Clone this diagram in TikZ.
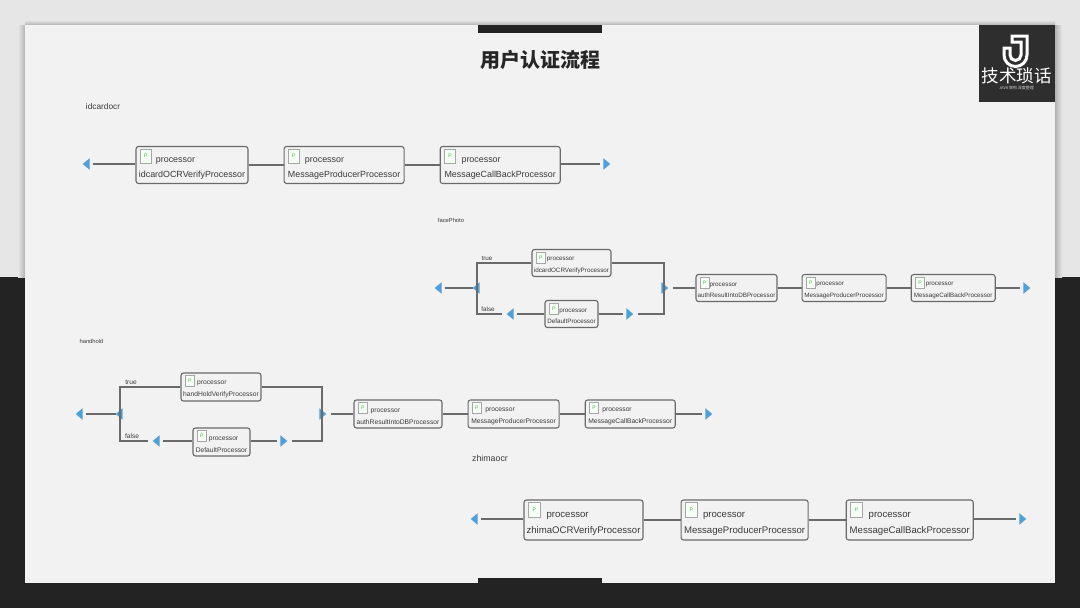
\documentclass[tikz,border=0pt]{standalone}
\usepackage{fontspec}
\setmainfont{Liberation Sans}
\newfontfamily\cjk{Noto Sans CJK SC}
\usetikzlibrary{shapes.geometric, positioning, calc}
\definecolor{panelc}{HTML}{F2F2F2}
\definecolor{topc}{HTML}{E6E6E6}
\definecolor{darkc}{HTML}{232323}
\definecolor{linec}{HTML}{6A6A6A}
\definecolor{tipc}{HTML}{4F9FD8}
\definecolor{textc}{HTML}{3A3A3A}

\begin{document}
\begin{tikzpicture}[
  x=1pt, y=-1pt,
  proc/.style={rectangle, draw=linec, fill=panelc, rounded corners=2.5pt, line width=1.1pt,
               inner sep=1pt, align=left, text=textc},
  big/.style={proc, minimum height=37pt, font=\fontsize{8.9}{15}\selectfont,
              execute at begin node={\rule{0pt}{27.5pt}}},
  small/.style={proc, minimum height=27pt, font=\fontsize{6.3}{11.5}\selectfont,
                execute at begin node={\rule{0pt}{20pt}}},
  mid/.style={proc, minimum height=28pt, font=\fontsize{6.7}{12}\selectfont,
              execute at begin node={\rule{0pt}{21pt}}},
  huge/.style={proc, minimum height=40pt, font=\fontsize{9.6}{16}\selectfont,
               execute at begin node={\rule{0pt}{29pt}}},
  icon/.style={rectangle, draw=gray!70, fill=green!4, inner sep=0pt, line width=.6pt,
               text=green!40!gray, font=\fontsize{5}{5}\selectfont},
  tipl/.style={isosceles triangle, isosceles triangle apex angle=80, shape border rotate=180,
               fill=tipc, inner sep=0pt, minimum height=7pt, minimum width=11pt, outer sep=3pt},
  tipr/.style={tipl, shape border rotate=0},
  lbl/.style={text=textc, inner sep=0pt},
  a/.style={draw=linec, line width=1.1pt},
]
  \useasboundingbox (0,0) rectangle (1080,608);

  % page
  \fill[topc] (0,0) rectangle (1080,277);
  \fill[darkc] (0,277) rectangle (1080,608);
  \shade[left color=topc, right color=gray!60] (18,25) rectangle (25,277);
  \shade[left color=gray!60, right color=topc] (1055,25) rectangle (1062,277);
  \shade[top color=topc, bottom color=gray!60] (25,20) rectangle (1055,25);
  \fill[panelc] (25,25) rectangle (1055,583);
  \fill[darkc] (478,25) rectangle (602,33);
  \fill[darkc] (478,578) rectangle (602,583);
  \node[font=\cjk\bfseries\fontsize{20}{20}\selectfont, text=black!85] (title) at (540,60) {用户认证流程};

  % logo
  \fill[darkc!95] (979,25) rectangle (1055,102);
  \draw[white, line width=3pt] (1012,36) -- (1027,36) -- (1027,55)
    arc[start angle=0, end angle=-180, radius=11.5pt] -- (1004,48) -- (1010,48) -- (1010,55)
    arc[start angle=180, end angle=360, radius=5.5pt] -- (1021,42) -- (1012,42) -- cycle;
  \node[font=\cjk\fontsize{17.5}{18}\selectfont, text=white] (logotext) at (1016.5,76) {技术琐话};
  \node[font=\cjk\fontsize{4}{4}\selectfont, text=white!80!black] (logosub) at (1016.5,87.5) {JAVA 架构 深度整理};

  % idcardocr
  \node[lbl, font=\fontsize{8.3}{10}\selectfont] (lidcard) at (103,106.5) {idcardocr};
  \node[big, minimum width=112pt] (idcard) at (192,165) {\hspace*{17pt}processor\\idcardOCRVerifyProcessor};
  \node[big, minimum width=120pt, right=35pt of idcard] (msg) {\hspace*{17pt}processor\\MessageProducerProcessor};
  \node[big, minimum width=120pt, right=35pt of msg] (cb) {\hspace*{17pt}processor\\MessageCallBackProcessor};
  \node[tipl] (idin) at (87,164) {};
  \node[tipr] (idout) at (606,164) {};
  \draw[a] (idin) -- (idcard.west |- idin);
  \draw[a] (idcard) -- (msg);
  \draw[a] (msg) -- (cb);
  \draw[a] (cb.east |- idout) -- (idout);

  % facePhoto
  \node[lbl, font=\fontsize{5.8}{7}\selectfont] (lface) at (451,220) {facePhoto};
  \node[small, minimum width=79pt] (faceocr) at (571.5,263) {\hspace*{13pt}processor\\idcardOCRVerifyProcessor};
  \node[small, minimum width=53pt] (facedef) at (571.5,314) {\hspace*{12pt}processor\\DefaultProcessor};
  \node[small, minimum width=81pt] (faceauth) at (736.5,288) {\hspace*{12pt}processor\\authResultIntoDBProcessor};
  \node[small, minimum width=84pt, right=24pt of faceauth] (facemsg) {\hspace*{12pt}processor\\MessageProducerProcessor};
  \node[small, minimum width=84pt, right=24pt of facemsg] (facecb) {\hspace*{12pt}processor\\MessageCallBackProcessor};
  \node[tipl] (facein) at (439,288) {};
  \node[tipl, outer sep=0pt] (facesplit) at (477,288) {};
  \node[tipr] (facejoin) at (664,288) {};
  \node[tipl] (facefl) at (511,314) {};
  \node[tipr] (facefr) at (629,314) {};
  \node[tipr] (faceout) at (1026,288) {};
  \node[lbl, font=\fontsize{6.3}{7}\selectfont] (ltrue1) at (487,258) {true};
  \node[lbl, font=\fontsize{6.3}{7}\selectfont] (lfalse1) at (488,309) {false};
  \draw[a] (facein) -- (facesplit);
  \draw[a] (facesplit.center) -- (facesplit.center |- faceocr) -- (faceocr);
  \draw[a] (facesplit.center) -- (facesplit.center |- facedef) -- (facefl);
  \draw[a] (facefl) -- (facedef);
  \draw[a] (facedef) -- (facefr);
  \draw[a] (faceocr) -- (facejoin.center |- faceocr) -- (facejoin.center);
  \draw[a] (facefr) -- (facejoin.center |- facefr) -- (facejoin.center);
  \draw[a] (facejoin) -- (faceauth.west |- facejoin);
  \draw[a] (faceauth) -- (facemsg);
  \draw[a] (facemsg) -- (facecb);
  \draw[a] (facecb) -- (faceout);

  % handhold
  \node[lbl, font=\fontsize{5.8}{7}\selectfont] (lhand) at (91.5,341) {handhold};
  \node[mid, minimum width=80pt] (handver) at (221,387) {\hspace*{14pt}processor\\handHoldVerifyProcessor};
  \node[mid, minimum width=57pt] (handdef) at (221.5,442) {\hspace*{13pt}processor\\DefaultProcessor};
  \node[mid, minimum width=88pt] (handauth) at (398,414) {\hspace*{14pt}processor\\authResultIntoDBProcessor};
  \node[mid, minimum width=91pt, right=25pt of handauth] (handmsg) {\hspace*{14pt}processor\\MessageProducerProcessor};
  \node[mid, minimum width=90pt, right=25pt of handmsg] (handcb) {\hspace*{14pt}processor\\MessageCallBackProcessor};
  \node[tipl] (handin) at (80,414) {};
  \node[tipl, outer sep=0pt] (handsplit) at (120,414) {};
  \node[tipr] (handjoin) at (322,414) {};
  \node[tipl] (handfl) at (157,441) {};
  \node[tipr] (handfr) at (283,441) {};
  \node[tipr] (handout) at (708,414) {};
  \node[lbl, font=\fontsize{6.6}{7}\selectfont] (ltrue2) at (131,382) {true};
  \node[lbl, font=\fontsize{6.6}{7}\selectfont] (lfalse2) at (132,436) {false};
  \draw[a] (handin) -- (handsplit);
  \draw[a] (handsplit.center) -- (handsplit.center |- handver) -- (handver);
  \draw[a] (handsplit.center) -- (handsplit.center |- handfl) -- (handfl);
  \draw[a] (handfl) -- (handfl -| handdef.west);
  \draw[a] (handfr -| handdef.east) -- (handfr);
  \draw[a] (handver) -- (handjoin.center |- handver) -- (handjoin.center);
  \draw[a] (handfr) -- (handjoin.center |- handfr) -- (handjoin.center);
  \draw[a] (handjoin) -- (handauth.west |- handjoin);
  \draw[a] (handauth) -- (handmsg);
  \draw[a] (handmsg) -- (handcb);
  \draw[a] (handcb) -- (handout);

  % zhimaocr
  \node[lbl, font=\fontsize{8.8}{10}\selectfont] (lzhima) at (490,458) {zhimaocr};
  \node[huge, minimum width=119pt] (zhima) at (583.5,520) {\hspace*{20pt}processor\\zhimaOCRVerifyProcessor};
  \node[huge, minimum width=127pt, right=37pt of zhima] (zmsg) {\hspace*{19pt}processor\\MessageProducerProcessor};
  \node[huge, minimum width=127pt, right=37pt of zmsg] (zcb) {\hspace*{19pt}processor\\MessageCallBackProcessor};
  \node[tipl] (zin) at (475,519) {};
  \node[tipr] (zout) at (1022,519) {};
  \draw[a] (zin) -- (zhima.west |- zin);
  \draw[a] (zhima) -- (zmsg);
  \draw[a] (zmsg) -- (zcb);
  \draw[a] (zcb.east |- zout) -- (zout);

  % file icons
  \foreach \n/\w/\h in {idcard/11/14, msg/11/14, cb/11/14, zhima/12/15, zmsg/12/15, zcb/12/15,
      faceocr/9/11, facedef/9/11, faceauth/9/11, facemsg/9/11, facecb/9/11,
      handver/9/11, handdef/9/11, handauth/9/11, handmsg/9/11, handcb/9/11}
    \node[icon, minimum width=\w pt, minimum height=\h pt, anchor=north west] (\n icon)
      at ($(\n.north west)+(4.5,3)$) {P};
\end{tikzpicture}
\end{document}
